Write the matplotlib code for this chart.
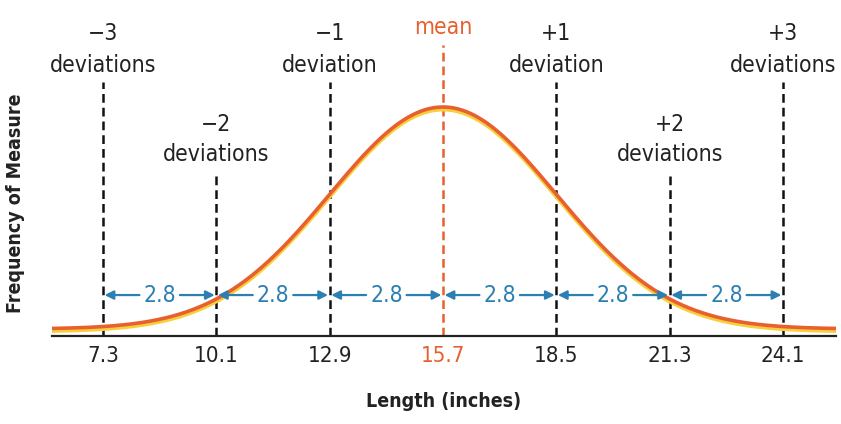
import numpy as np
import matplotlib.pyplot as plt

# chart values
mean = 15.7
sd = 2.8
tick_values = [7.3, 10.1, 12.9, 15.7, 18.5, 21.3, 24.1]
tick_labels = ['7.3', '10.1', '12.9', '15.7', '18.5', '21.3', '24.1']
dev_steps = [-3, -2, -1, 1, 2, 3]
dev_signs = ['\u22123', '\u22122', '\u22121', '+1', '+2', '+3']
dev_words = ['deviations', 'deviations', 'deviation', 'deviation', 'deviations', 'deviations']
gap_label = '2.8'

orange = '#e8602f'
blue = '#2b7fb2'
font = ['DejaVu Sans']
stretch = 'condensed'

fig = plt.figure(figsize=(8.41, 4.24), dpi=100)
ax = fig.add_axes([52 / 841, 88 / 424, 784 / 841, 336 / 424])

# normal curve (height 1 at the mean)
x = np.linspace(5.5, 26, 600)
y = np.exp(-0.5 * ((x - mean) / sd) ** 2)
ax.plot(x, y - 0.012, color='#f6cf3a', lw=2.6, zorder=3)
ax.plot(x, y, color=orange, lw=2.6, zorder=4)

ax.set_xlim(6.04, 25.41)
ax.set_ylim(-0.0315, 1.482)

# dashed deviation lines and their labels
for step, sign, word in zip(dev_steps, dev_signs, dev_words):
    xv = mean + step * sd
    top = 0.689 if abs(step) == 2 else 1.113
    ax.plot([xv, xv], [-0.0315, top], color='#111111', lw=1.8,
            dashes=(3.5, 2), zorder=2)
    ysign = 0.919 if abs(step) == 2 else 1.333
    yword = 0.784 if abs(step) == 2 else 1.189
    ax.text(xv, ysign, sign, ha='center', va='center', fontsize=16.5,
            color='#222222', family=font, stretch=stretch)
    ax.text(xv, yword, word, ha='center', va='center', fontsize=16.5,
            color='#222222', family=font, stretch=stretch)

# mean line
ax.plot([mean, mean], [-0.0315, 1.279], color=orange, lw=1.8,
        dashes=(3.5, 2), zorder=2)
ax.text(mean, 1.36, 'mean', ha='center', va='center', fontsize=16.5,
        color=orange, family=font, stretch=stretch)

# 2.8 spacing arrows
y_arr = 0.153
for i in range(len(tick_values) - 1):
    a = tick_values[i]
    b = tick_values[i + 1]
    c = (a + b) / 2
    ax.text(c, y_arr, gap_label, ha='center', va='center', fontsize=16.5,
            color=blue, family=font, stretch=stretch, zorder=6)
    for start, end in [(c - 0.5, a + 0.04), (c + 0.5, b - 0.04)]:
        ax.annotate('', xy=(end, y_arr), xytext=(start, y_arr),
                    arrowprops=dict(arrowstyle='-|>', color=blue, lw=1.6,
                                    mutation_scale=13, shrinkA=0, shrinkB=0),
                    zorder=5)

# axes styling
for side in ['top', 'right', 'left']:
    ax.spines[side].set_visible(False)
ax.spines['bottom'].set_linewidth(1.6)
ax.spines['bottom'].set_color('#222222')
ax.set_yticks([])
ax.set_xticks(tick_values)
ax.set_xticklabels(tick_labels, fontsize=16, family=font, stretch=stretch,
                   color='#222222')
ax.get_xticklabels()[3].set_color(orange)
ax.tick_params(axis='x', length=0, pad=7)

ax.set_xlabel('Length (inches)', fontsize=14, fontweight='bold',
              family=font, stretch=stretch, color='#222222', labelpad=19)
fig.text(16 / 841, 1 - 203 / 424, 'Frequency of Measure', rotation=90,
         ha='center', va='center', fontsize=14, fontweight='bold',
         family=font, stretch=stretch, color='#222222')

fig.savefig('out.png', dpi=100)
